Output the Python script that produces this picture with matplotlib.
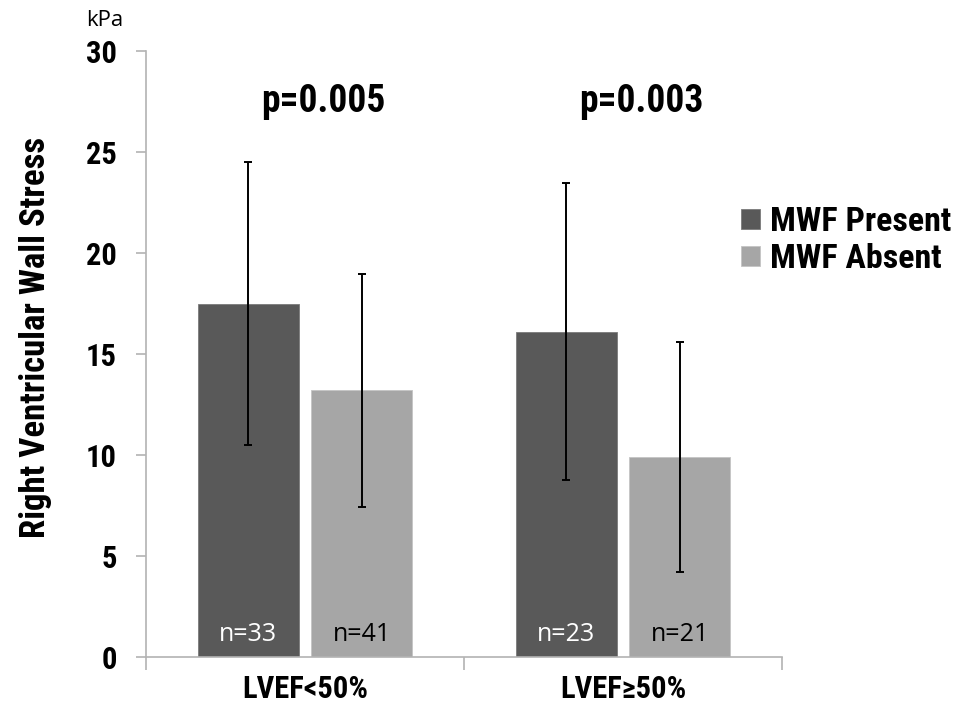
import numpy as np
from matplotlib import pyplot as plt
from matplotlib import font_manager as fm

# values (kPa)
groups = ['LVEF<50%', 'LVEF\u226550%']
present_mean = [17.5, 16.1]
present_err = [7.0, 7.35]
absent_mean = [13.2, 9.9]
absent_err = [5.75, 5.7]
present_n = ['n=33', 'n=23']
absent_n = ['n=41', 'n=21']
p_values = ['p=0.005', 'p=0.003']


# pick a narrow bold face if one is installed (chart uses Arial Narrow style)
def narrow_bold(size):
    order = ['LiberationSansNarrow-Bold', 'RobotoCondensed-Bold', 'DejaVuSansCondensed-Bold',
             'OpenSans_Condensed-Bold', 'OpenSansCondensed-Bold']
    files = [f.fname for f in fm.fontManager.ttflist]
    for key in order:
        for fn in files:
            if key.lower() in fn.lower().replace(' ', ''):
                return fm.FontProperties(fname=fn, size=size)
    return fm.FontProperties(family='DejaVu Sans', weight='bold', size=size, stretch='condensed')


plain = ['Open Sans', 'DejaVu Sans']
axis_grey = '#b3b3b3'

fig = plt.figure(figsize=(9.68, 7.07), dpi=100)
ax = fig.add_axes([146/968, 50/707, 636/968, 606/707])

x = np.arange(len(groups))
w = 0.32
off = 0.178

ax.bar(x - off, present_mean, w, color='#595959', edgecolor='#7a7a7a', linewidth=0.6,
       label='MWF Present', zorder=2)
ax.bar(x + off, absent_mean, w, color='#a6a6a6', edgecolor='#c4c4c4', linewidth=0.6,
       label='MWF Absent', zorder=2)
ax.errorbar(x - off, present_mean, yerr=present_err, fmt='none', ecolor='black',
            elinewidth=1.4, capsize=3, capthick=1.4, zorder=3)
ax.errorbar(x + off, absent_mean, yerr=absent_err, fmt='none', ecolor='black',
            elinewidth=1.4, capsize=3, capthick=1.4, zorder=3)

for i in range(len(groups)):
    ax.text(x[i] - off, 1.1, present_n[i], ha='center', va='center', color='white',
            fontsize=18, family=plain, zorder=4)
    ax.text(x[i] + off, 1.1, absent_n[i], ha='center', va='center', color='black',
            fontsize=18, family=plain, zorder=4)
    ax.text(x[i] + 0.058, 27.5, p_values[i], ha='center', va='center',
            fontproperties=narrow_bold(27))

ax.set_xlim(-0.5, 1.5)
ax.set_ylim(0, 30)
ax.set_yticks(np.arange(0, 31, 5))
ax.set_xticks([-0.5, 0.5, 1.5])
ax.set_xticklabels([])
ax.set_xticks(x, minor=True)
ax.set_xticklabels(groups, minor=True, fontproperties=narrow_bold(22))
ax.tick_params(axis='x', which='minor', length=0, pad=12)
ax.tick_params(axis='x', which='major', length=9, width=1.2, color=axis_grey)
ax.tick_params(axis='y', length=7, width=1.2, color=axis_grey, pad=14)
for lab in ax.get_yticklabels():
    lab.set_fontproperties(narrow_bold(22))

for s in ['top', 'right']:
    ax.spines[s].set_visible(False)
for s in ['left', 'bottom']:
    ax.spines[s].set_color(axis_grey)
    ax.spines[s].set_linewidth(1.2)

ax.set_ylabel('Right Ventricular Wall Stress', fontproperties=narrow_bold(25))
ax.yaxis.set_label_coords(-0.148, 0.528)
fig.text(105/968, 1 - 21/707, 'kPa', ha='center', va='center', fontsize=16, family=plain)

leg = ax.legend(loc='upper left', bbox_to_anchor=(741/968, 1 - 206/707),
                bbox_transform=fig.transFigure, frameon=False, handlelength=0.56,
                handleheight=0.56, handletextpad=0.3, labelspacing=0.15, borderpad=0,
                borderaxespad=0, prop=narrow_bold(24.5))

plt.savefig('out.png', dpi=100)
